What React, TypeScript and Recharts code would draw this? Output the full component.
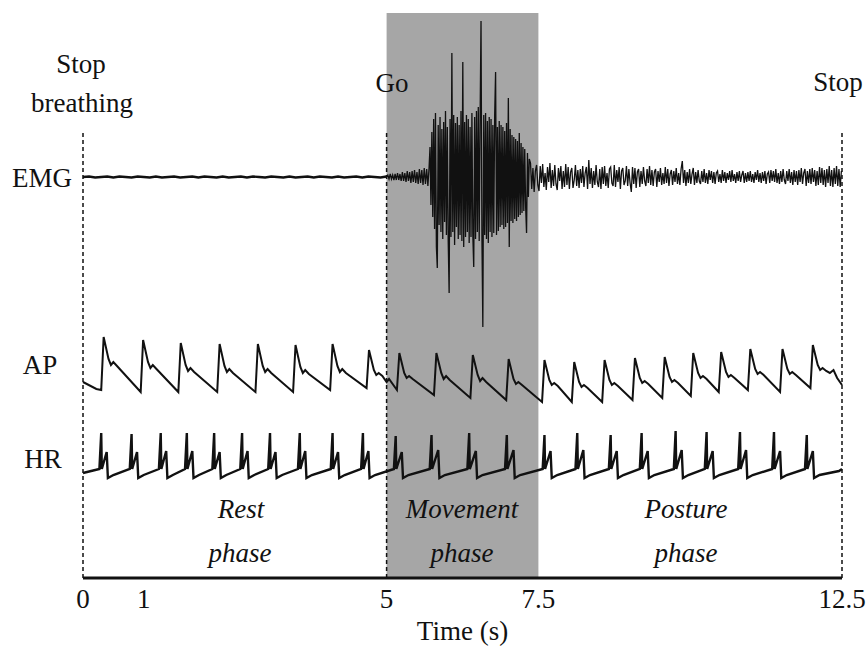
import { LineChart, Line, XAxis, YAxis, ReferenceArea, ReferenceLine } from 'recharts';

const serif = '"Liberation Serif", "Times New Roman", serif';

// time axis (s)
const timeTicks = [0, 1, 5, 7.5, 12.5];
const goTime = 5;
const movementEnd = 7.5;
const stopTime = 12.5;

// EMG, sampled segments (amplitude, arbitrary units, up = positive)
const emgRestStart = 0;
const emgRestStep = 0.1;
const emgRest = [
  0, 0.5, -0.5, 0, 0.5, -0.5, 0.5, 0, -0.5, 0.5,
  0, -0.5, 0.5, -0.5, 0, 0.5, -0.5, 0, 0.5, -0.5,
  0.5, 0, -0.5, 0.5, -0.5, 0, 0.5, -0.5, 0.5, 0,
  -0.5, 0.5, 0, -0.5, 0.5, -0.5, 0, 0.5, -0.5, 0.5,
  0, -0.5, 0.5, -0.5, 0, 0.5, -0.5, 0.5, 0, -0.5,
  0.5,
];

const emgOnsetStart = 5.02;
const emgOnsetStep = 0.02;
const emgOnset = [
  2, -2, 3, -2, 2, -3, 3, -3, 4, -3,
  3, -4, 5, -4, 4, -5, 6, -4, 5, -6,
  6, -5, 7, -6, 5, -7, 8, -6, 7, -8,
  9, -7, 8, -9, 10,
];

const emgBurstStart = 5.715;
const emgBurstStep = 0.015;
const emgBurst = [
  30, -28, 45, -40, 58, -52, 64, -70, -91, 52,
  -48, 60, -55, 48, -62, 55, -45, 66, -58, 50,
  -65, -116, 58, -60, 124, -55, 62, -68, 54, -50,
  60, -62, 52, -58, 66, -64, 115, -70, 55, -60,
  62, -55, 58, -66, 50, -60, 64, -58, -90, 60,
  -62, 66, -55, 70, -64, 58, 156, -60, -150, 62,
  -58, 64, -62, 56, -66, 60, -55, 58, -60, 52,
  -56, 62, 105, -58, 50, -54, 56, -50, 52, -48,
  50, -52, 46, -50, 54, -46, 79, -70, 48, -44,
  42, -46, 40, -42, 38, -44, 36, -40, 44, -38,
  34, -36, 30, -34, 28, -30, -56, 24, -20, 18,
];

const emgPostureStart = 7.37;
const emgPostureStep = 0.02;
const emgPosture = [
  14, -12, 9, -15, 6, 12, -8, -14, 11, -6,
  13, -10, 4, -13, 10, -5, 14, -11, 7, -9,
  12, -7, -13, 9, -4, 11, -12, 6, -10, 13,
  -8, 10, -12, 5, 9, -11, -3, 12, -9, 7,
  -11, 8, -6, 11, -10, 4, 10, -12, 17, -7,
  9, -11, 6, -8, 12, -5, -10, 8, -12, 10,
  -7, 11, -9, 4, -11, 8, 10, -6, -9, 12,
  -10, 7, -5, 10, -12, 6, 9, -8, -4, 11,
  -9, 8, -6, -15, 10, -7, 9, -11, 5, 8,
  -10, 6, -7, 10, -4, -9, 8, -6, 11, -8,
  7, -9, 5, 8, -10, 6, -5, 9, -8, 4,
  -7, 10, -6, 8, -9, 3, 7, -8, 6, -5,
  9, -7, 4, -8, 8, 16, -6, 7, -9, 5,
  -6, 8, -7, 3, 9, -8, 5, -6, 7, -4,
  -7, 6, -5, 8, -6, 4, -7, 7, -3, 6,
  -6, 5, -7, 4, 6, -5, 3, -6, 7, -4,
  5, -6, 4, -3, 6, -5, 7, -4, 3, -6,
  5, -4, 6, -5, 2, 6, -6, 4, -5, 5,
  -4, 6, -5, 3, -6, 5, -3, 7, -5, 4,
  -6, 5, -4, 6, -7, 3, 5, -6, 7, -4,
  6, -5, 8, -6, 4, -7, 6, -5, 8, -3,
  -7, 6, -4, 8, -6, 5, -8, 7, -5, 6,
  -8, 7, -5, 9, -7, 4, 8, -9, 6, -6,
  8, -7, 9, -5, 7, -9, 6, -8, 10, -6,
  9, -8, 7, -10, 8, -6, 11, -9, 7, -10,
  9, -7, 11, -9, 8, -10, 6,
];

// arterial pressure trace: [time, level above diastolic baseline]
const apPoints: [number, number][] = [
  [0, 18], [0.22, 11],
  [0.30, 10], [0.34, 63], [0.42, 41], [0.46, 35], [0.50, 38], [0.56, 34],
  [0.95, 8], [0.99, 60], [1.07, 38], [1.11, 32], [1.15, 35], [1.21, 31],
  [1.57, 8], [1.61, 57], [1.69, 35], [1.73, 29], [1.77, 32], [1.83, 28],
  [2.21, 8], [2.25, 56], [2.33, 34], [2.37, 28], [2.41, 31], [2.47, 27],
  [2.84, 8], [2.88, 56], [2.96, 34], [3.00, 28], [3.04, 31], [3.10, 27],
  [3.46, 8], [3.50, 55], [3.58, 33], [3.62, 27], [3.66, 30], [3.72, 26],
  [4.07, 10], [4.11, 56], [4.19, 34], [4.23, 28], [4.27, 31], [4.33, 27],
  [4.67, 12], [4.71, 50], [4.79, 30], [4.83, 25], [4.87, 27], [4.93, 24],
  [5.00, 18], [5.04, 21], [5.17, 10], [5.21, 47], [5.29, 27], [5.33, 22], [5.37, 24], [5.43, 21],
  [5.78, 5], [5.82, 47], [5.90, 27], [5.94, 21], [5.98, 24], [6.04, 20],
  [6.38, 2], [6.42, 45], [6.50, 25], [6.54, 19], [6.58, 22], [6.64, 18],
  [6.97, 0], [7.01, 41], [7.09, 21], [7.13, 16], [7.17, 18], [7.23, 15],
  [7.56, -2], [7.60, 40], [7.68, 20], [7.72, 15], [7.76, 17], [7.82, 14],
  [8.05, -2], [8.09, 38], [8.17, 18], [8.21, 13], [8.25, 15], [8.31, 12],
  [8.55, -2], [8.59, 40], [8.67, 20], [8.71, 15], [8.75, 17], [8.81, 14],
  [9.05, 0], [9.09, 42], [9.17, 22], [9.21, 17], [9.25, 19], [9.31, 16],
  [9.54, 2], [9.58, 43], [9.66, 23], [9.70, 18], [9.74, 20], [9.80, 17],
  [10.01, 4], [10.05, 47], [10.13, 27], [10.17, 22], [10.21, 24], [10.27, 21],
  [10.47, 8], [10.51, 48], [10.59, 28], [10.63, 23], [10.67, 25], [10.73, 22],
  [10.95, 10], [10.99, 51], [11.07, 31], [11.11, 26], [11.15, 28], [11.21, 25],
  [11.48, 8], [11.52, 51], [11.60, 31], [11.64, 26], [11.68, 28], [11.74, 25],
  [11.98, 12], [12.02, 55], [12.10, 35], [12.14, 30], [12.18, 32], [12.24, 29],
  [12.30, 27], [12.36, 30], [12.42, 22], [12.50, 15],
];

// heart (ECG-like) trace: [time, level above baseline]
const hrPoints: [number, number][] = [
  [0, 0],
  [0.27, 4], [0.30, 40], [0.31, 4], [0.39, 21], [0.41, -5], [0.50, -2],
  [0.77, 4], [0.80, 39], [0.81, 4], [0.89, 21], [0.91, -5], [1.00, -2],
  [1.25, 4], [1.28, 40], [1.29, 4], [1.37, 22], [1.39, -5], [1.48, -2],
  [1.68, 4], [1.71, 40], [1.72, 4], [1.80, 22], [1.82, -5], [1.91, -2],
  [2.13, 4], [2.16, 40], [2.17, 4], [2.25, 21], [2.27, -5], [2.36, -2],
  [2.59, 4], [2.62, 40], [2.63, 4], [2.71, 22], [2.73, -5], [2.82, -2],
  [3.05, 4], [3.08, 40], [3.09, 4], [3.17, 21], [3.19, -5], [3.28, -2],
  [3.54, 4], [3.57, 40], [3.58, 4], [3.66, 22], [3.68, -5], [3.77, -2],
  [4.08, 4], [4.11, 40], [4.12, 4], [4.20, 21], [4.22, -5], [4.31, -2],
  [4.58, 4], [4.61, 40], [4.62, 4], [4.70, 22], [4.72, -5], [4.81, -2],
  [5.12, 4], [5.15, 37], [5.16, 4], [5.25, 21], [5.27, -5], [5.36, -2],
  [5.71, 4], [5.74, 38], [5.75, 4], [5.85, 23], [5.87, -5], [5.96, -2],
  [6.33, 4], [6.36, 40], [6.37, 4], [6.47, 22], [6.49, -5], [6.58, -2],
  [6.95, 4], [6.98, 38], [6.99, 4], [7.09, 23], [7.11, -5], [7.20, -2],
  [7.57, 4], [7.60, 38], [7.61, 4], [7.70, 22], [7.72, -5], [7.81, -2],
  [8.11, 4], [8.14, 40], [8.15, 4], [8.24, 23], [8.26, -5], [8.35, -2],
  [8.66, 4], [8.69, 38], [8.70, 4], [8.79, 22], [8.81, -5], [8.90, -2],
  [9.17, 4], [9.20, 40], [9.21, 4], [9.30, 22], [9.32, -5], [9.41, -2],
  [9.73, 4], [9.76, 42], [9.77, 4], [9.86, 23], [9.88, -5], [9.97, -2],
  [10.24, 4], [10.27, 41], [10.28, 4], [10.37, 22], [10.39, -5], [10.48, -2],
  [10.79, 4], [10.82, 41], [10.83, 4], [10.92, 23], [10.94, -5], [11.03, -2],
  [11.35, 4], [11.38, 41], [11.39, 4], [11.48, 22], [11.50, -5], [11.59, -2],
  [11.89, 4], [11.92, 38], [11.93, 4], [12.02, 22], [12.04, -5], [12.13, -2],
  [12.45, 2], [12.50, 4],
];

// vertical placement of the three traces on the shared hidden axis
const Y_MAX = 565;
const EMG_BASE = 401;
const AP_BASE = 178;
const HR_BASE = 105;
const MARKER_TOP = 448;

const sampled = (start: number, step: number, values: number[]) =>
  values.map((v, i) => ({ t: +(start + i * step).toFixed(3), y: v + EMG_BASE }));

const emgRestData = sampled(emgRestStart, emgRestStep, emgRest);
const emgActiveData = [
  emgRestData[emgRestData.length - 1],
  ...sampled(emgOnsetStart, emgOnsetStep, emgOnset),
  ...sampled(emgBurstStart, emgBurstStep, emgBurst),
  ...sampled(emgPostureStart, emgPostureStep, emgPosture),
];

const apData = apPoints.map(([t, v]) => ({ t, y: v + AP_BASE }));
const hrData = hrPoints.map(([t, v]) => ({ t, y: v + HR_BASE }));

const ink = '#111';
const txt = { fontFamily: serif, fontSize: 27, fill: ink } as const;
const itxt = { ...txt, fontStyle: 'italic' } as const;

export default function App() {
  return (
    <div style={{ position: 'absolute', left: 0, top: 0, width: 868, height: 650, background: '#fff' }}>
      <LineChart width={868} height={650} margin={{ top: 13, right: 26, bottom: 10, left: 83 }}>
        <ReferenceArea x1={goTime} x2={movementEnd} y1={0} y2={Y_MAX} fill="#a6a6a6" fillOpacity={1} stroke="none" />
        <XAxis
          dataKey="t"
          type="number"
          domain={[0, stopTime]}
          ticks={timeTicks}
          interval={0}
          tickLine={false}
          tickMargin={5}
          height={62}
          axisLine={{ stroke: ink, strokeWidth: 3 }}
          tick={{ ...txt }}
          label={{ value: 'Time (s)', position: 'insideBottom', offset: 0, style: { ...txt } }}
        />
        <YAxis hide type="number" domain={[0, Y_MAX]} />
        {[0, goTime, stopTime].map((x) => (
          <ReferenceLine
            key={x}
            segment={[{ x, y: 0 }, { x, y: MARKER_TOP }]}
            stroke={ink}
            strokeWidth={1.5}
            strokeDasharray="4 3"
          />
        ))}
        <Line data={emgRestData} dataKey="y" type="linear" stroke={ink} strokeWidth={2.4} dot={false} isAnimationActive={false} />
        <Line data={emgActiveData} dataKey="y" type="linear" stroke={ink} strokeWidth={1.3} dot={false} isAnimationActive={false} />
        <Line data={apData} dataKey="y" type="linear" stroke={ink} strokeWidth={2} dot={false} isAnimationActive={false} />
        <Line data={hrData} dataKey="y" type="linear" stroke={ink} strokeWidth={2.4} dot={false} isAnimationActive={false} />
      </LineChart>
      <svg width={868} height={650} style={{ position: 'absolute', left: 0, top: 0, pointerEvents: 'none' }}>
        <text {...txt} x={81} y={73} textAnchor="middle">Stop</text>
        <text {...txt} x={82} y={112} textAnchor="middle">breathing</text>
        <text {...txt} x={392} y={92} textAnchor="middle">Go</text>
        <text {...txt} x={838} y={91} textAnchor="middle">Stop</text>
        <text {...txt} x={42} y={187} textAnchor="middle">EMG</text>
        <text {...txt} x={40} y={374} textAnchor="middle">AP</text>
        <text {...txt} x={43} y={468} textAnchor="middle">HR</text>
        <text {...itxt} x={241} y={518} textAnchor="middle">Rest</text>
        <text {...itxt} x={240} y={562} textAnchor="middle">phase</text>
        <text {...itxt} x={462} y={518} textAnchor="middle">Movement</text>
        <text {...itxt} x={462} y={562} textAnchor="middle">phase</text>
        <text {...itxt} x={686} y={518} textAnchor="middle">Posture</text>
        <text {...itxt} x={686} y={562} textAnchor="middle">phase</text>
      </svg>
    </div>
  );
}
